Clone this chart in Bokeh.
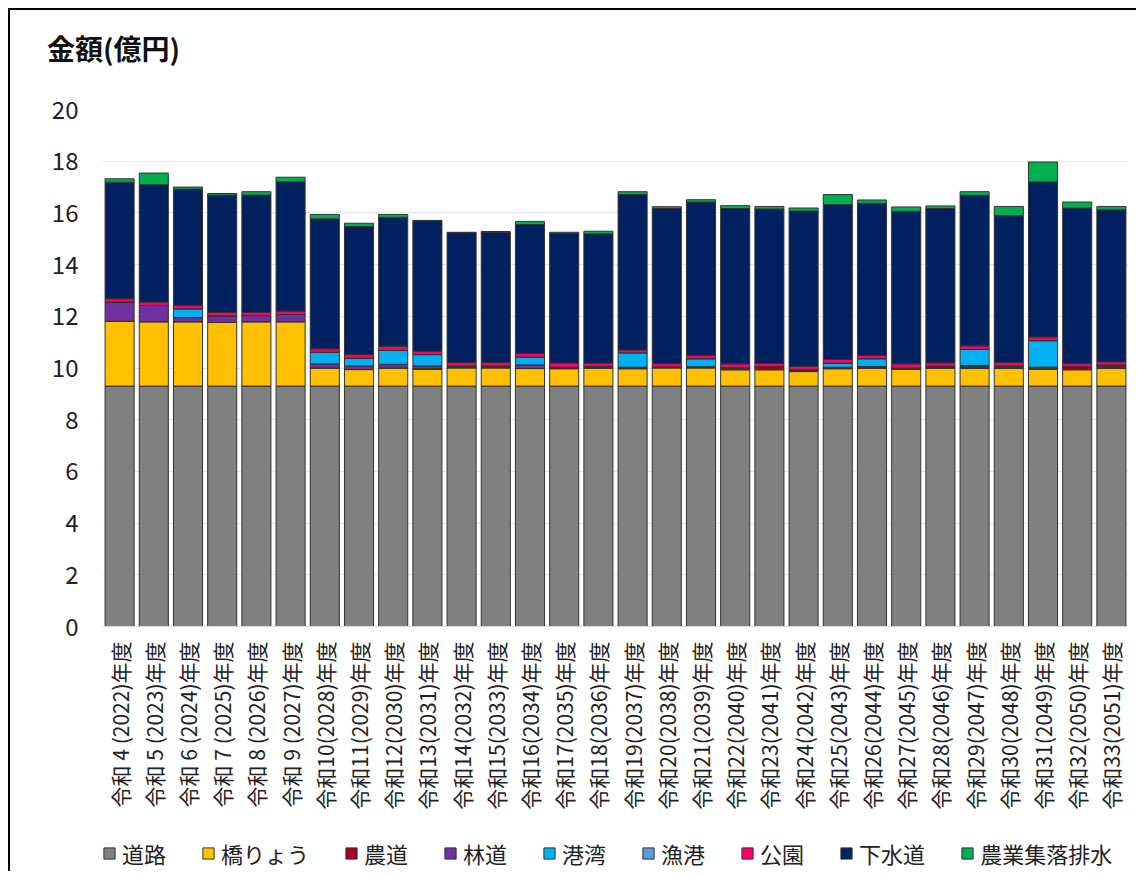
import math
from bokeh.plotting import figure
from bokeh.layouts import column
from bokeh.core.properties import value
from bokeh.models import (ColumnDataSource, FactorRange, Range1d, Legend, LegendItem,
                          FixedTicker, Div, Span)
from bokeh.embed import file_html
from bokeh.resources import INLINE

years = [
    "令和 4 (2022)年度", "令和 5 (2023)年度", "令和 6 (2024)年度", "令和 7 (2025)年度",
    "令和 8 (2026)年度", "令和 9 (2027)年度", "令和10(2028)年度", "令和11(2029)年度",
    "令和12(2030)年度", "令和13(2031)年度", "令和14(2032)年度", "令和15(2033)年度",
    "令和16(2034)年度", "令和17(2035)年度", "令和18(2036)年度", "令和19(2037)年度",
    "令和20(2038)年度", "令和21(2039)年度", "令和22(2040)年度", "令和23(2041)年度",
    "令和24(2042)年度", "令和25(2043)年度", "令和26(2044)年度", "令和27(2045)年度",
    "令和28(2046)年度", "令和29(2047)年度", "令和30(2048)年度", "令和31(2049)年度",
    "令和32(2050)年度", "令和33(2051)年度",
]

series_names = ["道路", "橋りょう", "農道", "林道", "港湾", "漁港", "公園", "下水道", "農業集落排水"]
y_title = "金額(億円)"
y_ticks = [0, 2, 4, 6, 8, 10, 12, 14, 16, 18, 20]

road = [9.30] * 30
bridge = [2.51, 2.49, 2.49, 2.46, 2.49, 2.49, 0.70, 0.64, 0.70, 0.65,
          0.70, 0.70, 0.68, 0.67, 0.69, 0.67, 0.70, 0.70, 0.63, 0.63,
          0.56, 0.67, 0.69, 0.65, 0.69, 0.68, 0.68, 0.65, 0.63, 0.68]
farm_road = [0.00, 0.00, 0.00, 0.00, 0.00, 0.00, 0.00, 0.00, 0.00, 0.03,
             0.06, 0.06, 0.00, 0.04, 0.05, 0.04, 0.02, 0.03, 0.06, 0.10,
             0.06, 0.04, 0.03, 0.03, 0.06, 0.08, 0.08, 0.04, 0.10, 0.10]
forest_road = [0.74, 0.63, 0.16, 0.26, 0.24, 0.28, 0.16, 0.14, 0.14, 0.10,
               0.02, 0.02, 0.14, 0.02, 0.02, 0.02, 0.02, 0.02, 0.02, 0.02,
               0.02, 0.02, 0.04, 0.02, 0.02, 0.04, 0.02, 0.04, 0.02, 0.04]
harbor = [0.00, 0.00, 0.34, 0.00, 0.00, 0.00, 0.45, 0.30, 0.54, 0.44,
          0.00, 0.00, 0.30, 0.00, 0.00, 0.56, 0.00, 0.31, 0.00, 0.00,
          0.00, 0.16, 0.30, 0.00, 0.00, 0.62, 0.00, 1.03, 0.00, 0.00]
fish_port = [0.00] * 30
park = [0.13, 0.13, 0.13, 0.13, 0.12, 0.13, 0.13, 0.14, 0.16, 0.13,
        0.13, 0.13, 0.14, 0.16, 0.13, 0.11, 0.13, 0.13, 0.15, 0.13,
        0.13, 0.14, 0.13, 0.16, 0.13, 0.14, 0.13, 0.14, 0.12, 0.12]
sewer = [4.51, 4.54, 4.50, 4.54, 4.54, 5.01, 5.03, 4.95, 4.99, 5.04,
         5.02, 5.03, 4.99, 5.02, 5.00, 6.01, 6.00, 5.93, 6.01, 5.97,
         6.00, 5.99, 5.88, 5.90, 5.97, 5.82, 5.69, 6.00, 6.02, 5.88]
agri_drain = [0.13, 0.45, 0.08, 0.06, 0.13, 0.17, 0.17, 0.13, 0.11, 0.02,
              0.02, 0.04, 0.12, 0.04, 0.10, 0.11, 0.07, 0.09, 0.11, 0.10,
              0.12, 0.39, 0.13, 0.17, 0.10, 0.14, 0.35, 0.77, 0.23, 0.13]

colors = ["#808080", "#FFC000", "#A50021", "#7030A0", "#00B0F0",
          "#5B9BD5", "#FF0066", "#002060", "#00B050"]

keys = ["s%d" % i for i in range(9)]
data = {"x": years}
for k, arr in zip(keys, [road, bridge, farm_road, forest_road, harbor, fish_port, park, sewer, agri_drain]):
    data[k] = arr
source = ColumnDataSource(data)
label_source = ColumnDataSource({"x": years, "label": years})

FONT = "Noto Sans CJK JP"

# layout constants (pixels): the plotting frame extends below zero so that the
# category labels and the legend can be drawn inside it
FRAME_H = 762
PX_PER_UNIT = 25.85
Y_MAX = 20
Y_MIN = Y_MAX - FRAME_H / PX_PER_UNIT
LABEL_Y = -15 / PX_PER_UNIT

title_div = Div(
    text=('<div style="position:relative; top:24px; left:37px; white-space:nowrap; '
          'font-family:\'Noto Sans CJK JP\'; font-weight:bold; font-size:28px; '
          'line-height:28px; color:#111111;">%s</div>' % y_title),
    width=400, height=60, margin=0,
)

p = figure(
    x_range=FactorRange(factors=years, range_padding=0),
    y_range=Range1d(Y_MIN, Y_MAX),
    frame_width=1026, frame_height=FRAME_H,
    output_backend="svg", toolbar_location=None,
    min_border_left=92, min_border_right=8, min_border_top=39, min_border_bottom=0,
    margin=0,
)

renderers = p.vbar_stack(keys, x="x", width=0.85, color=colors, source=source,
                         line_color="#333333", line_width=1)

p.add_layout(Span(location=0, dimension="width", line_color="#D9D9D9", line_width=1), "center")

p.text(x="x", y=LABEL_Y, text="label", source=label_source, angle=math.pi / 2,
       text_align="right", text_baseline="middle", text_font=value(FONT),
       text_font_size="21px", text_color="#222222")

legend = Legend(
    items=[LegendItem(label=n, renderers=[r]) for n, r in zip(series_names, renderers)],
    orientation="horizontal", location=(0, 2),
    label_text_font=FONT, label_text_font_size="22px", label_text_color="#222222",
    glyph_width=14, glyph_height=14, label_standoff=6, spacing=35,
    border_line_color=None, background_fill_alpha=0, padding=2, margin=0,
)
p.add_layout(legend, "center")

p.outline_line_color = None
p.xgrid.grid_line_color = None
p.ygrid.grid_line_color = "#E8E8E8"
p.ygrid.grid_line_width = 1
p.xaxis.visible = False

p.yaxis.ticker = FixedTicker(ticks=y_ticks)
p.yaxis.axis_line_color = None
p.yaxis.major_tick_line_color = None
p.yaxis.minor_tick_line_color = None
p.yaxis.major_label_text_font = FONT
p.yaxis.major_label_text_font_size = "24px"
p.yaxis.major_label_text_color = "#222222"
p.yaxis.major_label_standoff = 18

layout = column(title_div, p, spacing=0)
layout.styles = {"border-left": "2px solid #000000", "border-top": "2px solid #000000",
                 "margin-left": "8px", "margin-top": "8px"}

open("out.html", "w").write(file_html(layout, INLINE))
